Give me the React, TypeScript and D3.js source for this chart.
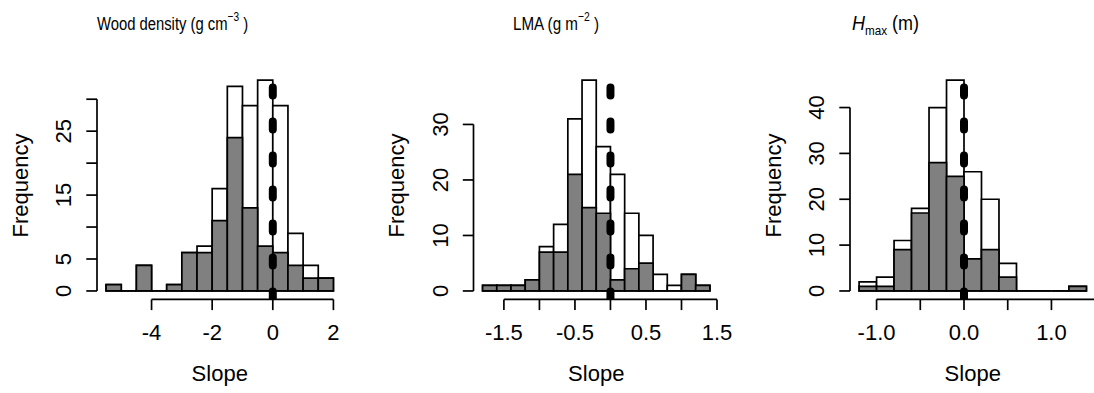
import React from "react";
import * as d3 from "d3";

// ---- data ----
const woodStart = -5.5;
const woodWidth = 0.5;
const woodTotal = [1, 0, 4, 0, 1, 6, 7, 16, 32, 29, 33, 29, 9, 4, 2];
const woodSig = [1, 0, 4, 0, 1, 6, 6, 11, 24, 13, 7, 6, 4, 2, 2];
const woodXTicks = [-4, -2, 0, 2];
const woodXLabels = ["-4", "-2", "0", "2"];
const woodYTicks = [0, 5, 10, 15, 20, 25, 30];
const woodYLabels = [0, 5, 15, 25];

const lmaStart = -1.8;
const lmaWidth = 0.2;
const lmaTotal = [1, 1, 1, 2, 8, 12, 31, 38, 26, 21, 14, 10, 3, 1, 3, 1];
const lmaSig = [1, 1, 1, 2, 7, 7, 21, 15, 14, 2, 4, 5, 0, 0, 3, 1];
const lmaXTicks = [-1.5, -1, -0.5, 0, 0.5, 1, 1.5];
const lmaXLabelValues = [-1.5, -0.5, 0.5, 1.5];
const lmaXLabels = ["-1.5", "-0.5", "0.5", "1.5"];
const lmaYTicks = [0, 10, 20, 30];
const lmaYLabels = [0, 10, 20, 30];

const hmaxStart = -1.2;
const hmaxWidth = 0.2;
const hmaxTotal = [2, 3, 11, 18, 40, 46, 26, 20, 6, 0, 0, 0, 1];
const hmaxSig = [1, 1, 9, 17, 28, 25, 7, 9, 3, 0, 0, 0, 1];
const hmaxXTicks = [-1, -0.5, 0, 0.5, 1, 1.5];
const hmaxXLabelValues = [-1, 0, 1];
const hmaxXLabels = ["-1.0", "0.0", "1.0"];
const hmaxYTicks = [0, 10, 20, 30, 40];
const hmaxYLabels = [0, 10, 20, 30, 40];

// ---- layout ----
const W = 1094;
const H = 393;
const PANEL_STEP = 376.5;
const REGION_LEFT = 97;
const REGION_W = 245.5;
const REGION_TOP = 71.6;
const REGION_BOTTOM = 299.4;
const FONT = "'Liberation Sans', Arial, Helvetica, sans-serif";
const GRAY = "#808080";

type PanelProps = {
  idx: number;
  start: number;
  width: number;
  total: number[];
  sig: number[];
  xTicks: number[];
  xLabelValues: number[];
  xLabels: string[];
  yTicks: number[];
  yLabels: number[];
  title: React.ReactNode;
  titleX: number;
  titleScale: number;
  titleSize: number;
};

function Panel(p: PanelProps) {
  const left = REGION_LEFT + p.idx * PANEL_STEP;
  const n = p.total.length;
  const end = p.start + n * p.width;
  const range = end - p.start;
  const x = d3
    .scaleLinear()
    .domain([p.start - 0.04 * range, end + 0.04 * range])
    .range([left, left + REGION_W]);
  const maxC = d3.max(p.total) as number;
  const y = d3
    .scaleLinear()
    .domain([-0.04 * maxC, 1.04 * maxC])
    .range([REGION_BOTTOM, REGION_TOP]);
  const sw = 1.7;
  const clipId = `clip${p.idx}`;
  const xTickMin = d3.min(p.xTicks) as number;
  const xTickMax = d3.max(p.xTicks) as number;
  const yTickMax = d3.max(p.yTicks) as number;
  const tick = 10.7;
  const barPath = (c: number, i: number) => {
    const x0 = x(p.start + i * p.width);
    const x1 = x(p.start + (i + 1) * p.width);
    const y0 = y(0);
    const y1 = y(c);
    return `M${x0},${y0}L${x0},${y1}L${x1},${y1}L${x1},${y0}Z`;
  };
  return (
    <g>
      <defs>
        <clipPath id={clipId}>
          <rect x={0} y={REGION_TOP} width={W} height={REGION_BOTTOM - REGION_TOP} />
        </clipPath>
      </defs>
      {p.total.map((c, i) => (
        <path key={"t" + i} d={barPath(c, i)} fill="white" stroke="black" strokeWidth={sw} />
      ))}
      {p.sig.map((c, i) => (
        <path key={"s" + i} d={barPath(c, i)} fill={GRAY} stroke="black" strokeWidth={sw} />
      ))}
      <line
        x1={x(0)}
        x2={x(0)}
        y1={REGION_BOTTOM}
        y2={REGION_TOP}
        stroke="black"
        strokeWidth={8}
        strokeDasharray="8 26"
        strokeLinecap="round"
        clipPath={`url(#${clipId})`}
      />
      {/* x axis */}
      <line x1={x(xTickMin)} x2={x(xTickMax)} y1={REGION_BOTTOM} y2={REGION_BOTTOM} stroke="black" strokeWidth={sw} />
      {p.xTicks.map((t, i) => (
        <line key={"xt" + i} x1={x(t)} x2={x(t)} y1={REGION_BOTTOM} y2={REGION_BOTTOM + tick} stroke="black" strokeWidth={sw} />
      ))}
      {p.xLabelValues.map((t, i) => (
        <text key={"xl" + i} x={x(t)} y={340} textAnchor="middle" fontSize={22} fontFamily={FONT}>
          {p.xLabels[i]}
        </text>
      ))}
      {/* y axis */}
      <line x1={left} x2={left} y1={y(0)} y2={y(yTickMax)} stroke="black" strokeWidth={sw} />
      {p.yTicks.map((t, i) => (
        <line key={"yt" + i} x1={left} x2={left - tick} y1={y(t)} y2={y(t)} stroke="black" strokeWidth={sw} />
      ))}
      {p.yLabels.map((t, i) => (
        <text
          key={"yl" + i}
          transform={`translate(${left - 26},${y(t)}) rotate(-90)`}
          textAnchor="middle"
          fontSize={22}
          fontFamily={FONT}
        >
          {String(t)}
        </text>
      ))}
      <text
        transform={`translate(${left - 69.5},${(REGION_TOP + REGION_BOTTOM) / 2}) rotate(-90)`}
        textAnchor="middle"
        fontSize={22}
        fontFamily={FONT}
      >
        Frequency
      </text>
      <text x={left + REGION_W / 2} y={381} textAnchor="middle" fontSize={22} fontFamily={FONT}>
        Slope
      </text>
      <g transform={`translate(${p.titleX},30) scale(${p.titleScale},1)`}>
        <text x={0} y={0} fontSize={p.titleSize} fontFamily={FONT}>
          {p.title}
        </text>
      </g>
    </g>
  );
}

export default function App() {
  return (
    <svg
      width={W}
      height={H}
      style={{ position: "absolute", left: 0, top: 0, background: "white" }}
    >
      <rect x={0} y={0} width={W} height={H} fill="white" />
      <Panel
        idx={0}
        start={woodStart}
        width={woodWidth}
        total={woodTotal}
        sig={woodSig}
        xTicks={woodXTicks}
        xLabelValues={woodXTicks}
        xLabels={woodXLabels}
        yTicks={woodYTicks}
        yLabels={woodYLabels}
        titleX={97}
        titleScale={0.78}
        titleSize={19}
        title={
          <>
            <tspan>Wood density (g cm</tspan>
            <tspan fontSize={13} dy={-9}>−3</tspan>
            <tspan dy={9}> )</tspan>
          </>
        }
      />
      <Panel
        idx={1}
        start={lmaStart}
        width={lmaWidth}
        total={lmaTotal}
        sig={lmaSig}
        xTicks={lmaXTicks}
        xLabelValues={lmaXLabelValues}
        xLabels={lmaXLabels}
        yTicks={lmaYTicks}
        yLabels={lmaYLabels}
        titleX={513}
        titleScale={0.8}
        titleSize={19}
        title={
          <>
            <tspan>LMA (g m</tspan>
            <tspan fontSize={13} dy={-9}>−2</tspan>
            <tspan dy={9}> )</tspan>
          </>
        }
      />
      <Panel
        idx={2}
        start={hmaxStart}
        width={hmaxWidth}
        total={hmaxTotal}
        sig={hmaxSig}
        xTicks={hmaxXTicks}
        xLabelValues={hmaxXLabelValues}
        xLabels={hmaxXLabels}
        yTicks={hmaxYTicks}
        yLabels={hmaxYLabels}
        titleX={852}
        titleScale={0.9}
        titleSize={20}
        title={
          <>
            <tspan fontStyle="italic">H</tspan>
            <tspan fontSize={13} dy={5}>max</tspan>
            <tspan dy={-5}> (m)</tspan>
          </>
        }
      />
    </svg>
  );
}
